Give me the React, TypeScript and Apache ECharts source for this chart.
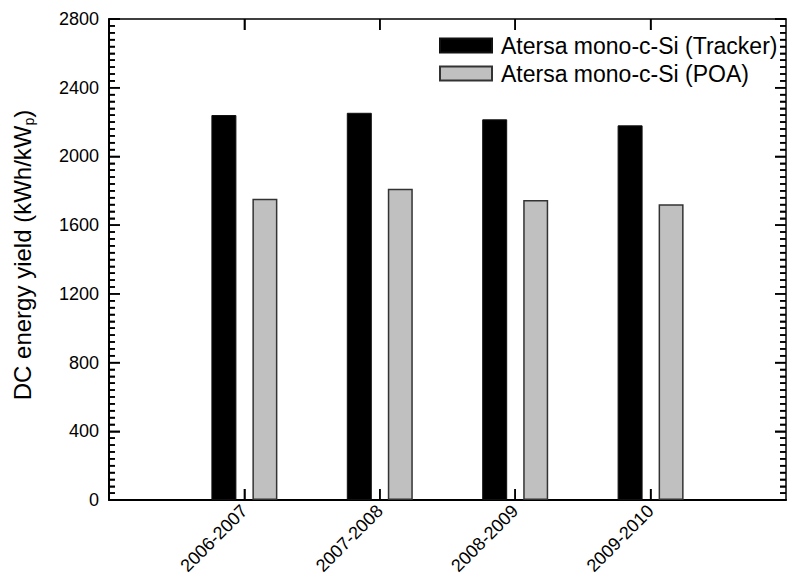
import React, { useEffect, useRef } from "react";
import * as echarts from "echarts";

const categories = ["2006-2007", "2007-2008", "2008-2009", "2009-2010"];
const trackerValues = [2241, 2254, 2216, 2181];
const poaValues = [1754, 1812, 1746, 1721];
const seriesNames = ["Atersa mono-c-Si (Tracker)", "Atersa mono-c-Si (POA)"];
const yTicks = { min: 0, max: 2800, interval: 400, minorSplit: 10 };
const yTitle = ["DC energy yield (kWh/kW", "p", ")"];

const FONT = "Liberation Sans, Arial, Helvetica, sans-serif";

export default function App() {
  const ref = useRef<HTMLDivElement>(null);
  useEffect(() => {
    if (!ref.current) return;
    const chart = echarts.init(ref.current, null, { renderer: "svg" });
    const cats = ["", ...categories, ""];
    const pad = (arr: number[]) => ["-", ...arr, "-"];
    const showIdx = (i: number) => i >= 1 && i <= categories.length;

    // tick marks: [categoryIndex, yValue, side(0 left,1 right,2 bottom,3 top), length]
    const tickMarks: number[][] = [];
    const minorStep = yTicks.interval / yTicks.minorSplit;
    const nMinor = Math.round((yTicks.max - yTicks.min) / minorStep);
    for (let k = 0; k <= nMinor; k++) {
      const v = yTicks.min + k * minorStep;
      const len = k % yTicks.minorSplit === 0 ? 11 : 6;
      tickMarks.push([0, v, 0, len]);
      tickMarks.push([0, v, 1, len]);
    }
    categories.forEach((_, i) => {
      tickMarks.push([i + 1, yTicks.min, 2, 11]);
      tickMarks.push([i + 1, yTicks.min, 3, 11]);
    });

    const yAxisBase = (position: string, labels: boolean) => ({
      type: "value",
      min: yTicks.min,
      max: yTicks.max,
      interval: yTicks.interval,
      position,
      axisLine: { show: true, onZero: false, lineStyle: { color: "#000", width: position === "left" ? 2 : 1.5 } },
      axisTick: { show: true, inside: true, length: 11, lineStyle: { color: "#000", width: 1.5 } },
      minorTick: { show: true, splitNumber: yTicks.minorSplit, length: 6, lineStyle: { color: "#000", width: 1.5 } },
      axisLabel: labels
        ? { show: true, fontSize: 18, color: "#000", margin: 10, fontFamily: FONT, formatter: (v: number) => String(v) }
        : { show: false },
      splitLine: { show: false },
    });

    const xAxisBase = (position: string, labels: boolean) => ({
      type: "category",
      data: cats,
      boundaryGap: false,
      position,
      axisLine: { show: true, onZero: false, lineStyle: { color: "#000", width: position === "bottom" ? 2 : 1.5 } },
      axisTick: { show: true, inside: true, length: 11, interval: (i: number) => showIdx(i), lineStyle: { color: "#000", width: 1.5 } },
      axisLabel: labels
        ? { show: true, interval: (i: number) => showIdx(i), rotate: 45, margin: 8, fontSize: 18, color: "#000", fontFamily: FONT }
        : { show: false },
      splitLine: { show: false },
    });

    chart.setOption({
      animation: false,
      grid: { left: 109, right: 1, top: 19, bottom: 78 },
      legend: {
        orient: "vertical",
        left: 439,
        top: 34,
        padding: 0,
        itemWidth: 52,
        itemHeight: 14,
        itemGap: 5,
        icon: "rect",
        textStyle: { fontSize: 23, color: "#000", fontFamily: FONT, padding: [0, 0, 0, 4] },
        data: seriesNames,
      },
      graphic: [
        {
          type: "text",
          x: 22,
          y: 255,
          rotation: Math.PI / 2,
          style: {
            text: `{a|${yTitle[0]}}{s|${yTitle[1]}}{a|${yTitle[2]}}`,
            align: "center",
            verticalAlign: "middle",
            rich: {
              a: { fontSize: 24, fill: "#000", fontFamily: FONT },
              s: { fontSize: 14, fill: "#000", fontFamily: FONT, padding: [14, 0, 0, 0] },
            },
          },
        },
      ],
      xAxis: [xAxisBase("bottom", true), xAxisBase("top", false)],
      yAxis: [yAxisBase("left", true), yAxisBase("right", false)],
      series: [
        {
          name: seriesNames[0],
          type: "bar",
          xAxisIndex: 0,
          yAxisIndex: 0,
          data: pad(trackerValues),
          barWidth: 25,
          barGap: "64%",
          itemStyle: { color: "#000", borderColor: "#111", borderWidth: 1 },
        },
        {
          name: seriesNames[1],
          type: "bar",
          xAxisIndex: 0,
          yAxisIndex: 0,
          data: pad(poaValues),
          barWidth: 25,
          barGap: "64%",
          itemStyle: { color: "#c0c0c0", borderColor: "#333", borderWidth: 1.5 },
        },
        {
          type: "custom",
          xAxisIndex: 0,
          yAxisIndex: 0,
          silent: true,
          z: 10,
          encode: { x: 0, y: 1 },
          data: tickMarks,
          renderItem: (params: any, api: any) => {
            const cs = params.coordSys;
            const side = api.value(2);
            const len = api.value(3);
            const p = api.coord([api.value(0), api.value(1)]);
            const w = 1.5;
            let shape;
            if (side === 0) shape = { x: cs.x, y: p[1] - w / 2, width: len, height: w };
            else if (side === 1) shape = { x: cs.x + cs.width - len, y: p[1] - w / 2, width: len, height: w };
            else if (side === 2) shape = { x: p[0] - w / 2, y: cs.y + cs.height - len, width: w, height: len };
            else shape = { x: p[0] - w / 2, y: cs.y, width: w, height: len };
            return { type: "rect", shape, style: { fill: "#000" } };
          },
        },
      ],
    });
    return () => chart.dispose();
  }, []);
  return (
    <div
      ref={ref}
      style={{ position: "absolute", left: 0, top: 0, width: 787, height: 578 }}
    />
  );
}
